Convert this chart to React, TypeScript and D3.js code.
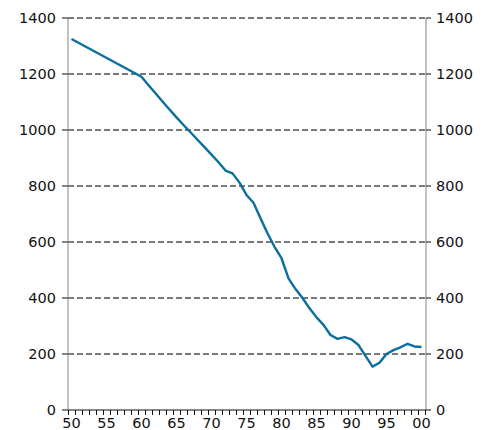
import React from 'react';
import * as d3 from 'd3';

// years on the category axis
const years: number[] = d3.range(1950, 2001);

// values (null = no data for that year)
const values: (number | null)[] = [
  1325, null, null, null, null, null, null, null, null, null,
  1190, 1160, 1131, 1102, 1073, 1045, 1018, 992, 965, 939,
  912, 885, 855, 845, 812, 768, 740, 685, 631, 583,
  542, 470, 432, 400, 363, 331, 304, 268, 254, 260,
  252, 232, 193, 155, 169, 200, 214, 224, 236, 227,
  225,
];

const yTicks: number[] = [0, 200, 400, 600, 800, 1000, 1200, 1400];
const labelYears: number[] = [1950, 1955, 1960, 1965, 1970, 1975, 1980, 1985, 1990, 1995, 2000];

const W = 484;
const H = 430;
const left = 68;
const right = 425;
const top = 18;
const bottom = 410;

const App: React.FC = () => {
  const x = d3.scaleBand<number>().domain(years).range([left, right]).padding(0);
  const y = d3.scaleLinear().domain([0, 1400]).range([bottom, top]);
  const bw = x.bandwidth();

  const pts = years
    .map((yr, i) => ({ yr, v: values[i] }))
    .filter((d) => d.v !== null) as { yr: number; v: number }[];

  const line = d3
    .line<{ yr: number; v: number }>()
    .x((d) => (x(d.yr) as number) + bw / 2)
    .y((d) => y(d.v));

  const font = 'Verdana, "DejaVu Sans", sans-serif';
  const fs = 14.5;

  return (
    <svg width={W} height={H} style={{ position: 'absolute', left: 0, top: 0 }} fontFamily={font}>
      {/* dashed grid */}
      {yTicks.filter((t) => t > 0).map((t) => (
        <line key={'g' + t} x1={left} x2={right + 1} y1={y(t)} y2={y(t)}
          stroke="#7a7a7a" strokeWidth={1.8} strokeDasharray="6,3" />
      ))}
      {/* side axes */}
      <line x1={left} x2={left} y1={top} y2={bottom} stroke="#999" strokeWidth={1.2} />
      <line x1={right + 1} x2={right + 1} y1={top} y2={bottom} stroke="#999" strokeWidth={1.2} />
      {yTicks.map((t) => (
        <g key={'t' + t}>
          <line x1={left - 6} x2={left} y1={y(t)} y2={y(t)} stroke="#111" strokeWidth={1} />
          <line x1={right + 1} x2={right + 6} y1={y(t)} y2={y(t)} stroke="#111" strokeWidth={1} />
          <text x={left - 12} y={y(t)} dy="0.36em" textAnchor="end" fontSize={fs} fill="#111">{t}</text>
          <text x={right + 11} y={y(t)} dy="0.36em" textAnchor="start" fontSize={fs} fill="#111">{t}</text>
        </g>
      ))}
      {/* bottom axis */}
      <line x1={left} x2={right + 1} y1={bottom} y2={bottom} stroke="#111" strokeWidth={1.2} />
      {years.concat([2001]).map((yr) => {
        const px = yr === 2001 ? right : (x(yr) as number);
        return <line key={'x' + yr} x1={px + 0.5} x2={px + 0.5} y1={bottom} y2={bottom + 5} stroke="#111" strokeWidth={1} />;
      })}
      {labelYears.map((yr) => (
        <text key={'l' + yr} x={(x(yr) as number) + bw / 2} y={bottom + 18} textAnchor="middle" fontSize={fs} fill="#111">
          {String(yr % 100).padStart(2, '0')}
        </text>
      ))}
      {/* series */}
      <path d={line(pts) ?? ''} fill="none" stroke="#0a6e9e" strokeWidth={2.4} strokeLinejoin="round" />
    </svg>
  );
};

export default App;
